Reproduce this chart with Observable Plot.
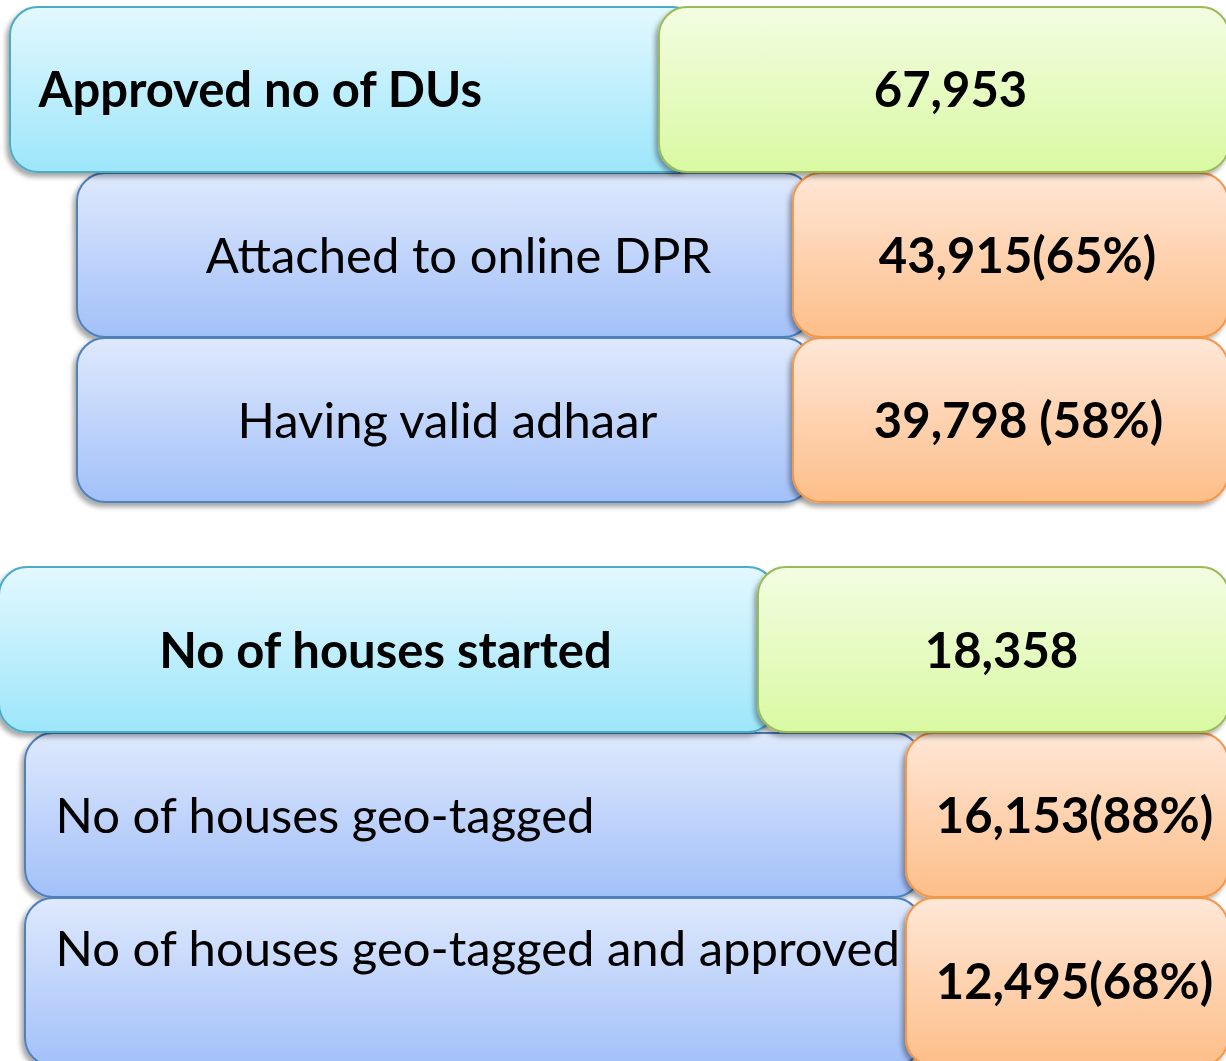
<!DOCTYPE html>
<html>
<head>
<meta charset="utf-8">
<script src="https://cdn.jsdelivr.net/npm/d3@7"></script>
<script src="https://cdn.jsdelivr.net/npm/@observablehq/plot@0.6"></script>
<style>
  html, body { margin: 0; padding: 0; background: #ffffff; overflow: hidden; }
  #chart svg { display: block; }
</style>
</head>
<body>
<div id="chart"></div>
<script>
// ---- data ----
const labels = [
  "Approved no of DUs",
  "Attached to online DPR",
  "Having valid adhaar",
  "No of houses started",
  "No of houses geo-tagged",
  "No of houses geo-tagged and approved"
];
const values = [
  "67,953",
  "43,915(65%)",
  "39,798 (58%)",
  "18,358",
  "16,153(88%)",
  "12,495(68%)"
];
const levels = ["head", "sub", "sub", "head", "sub", "sub"];

// ---- layout (pixel units of the canvas) ----
const W = 1226, H = 1061;
const rowTop    = [7, 173, 338, 567, 733, 898];
const rowBottom = [172, 337, 502, 732, 897, 1066];
const labelBoxX = [[10, 700], [77, 812], [77, 812], [-1, 776], [25, 922], [25, 922]];
const valueBoxX = [[659, 1229], [793, 1228], [793, 1228], [758, 1229], [906, 1228], [906, 1228]];
const labelTextX = [38, 458, 447, 385, 55, 55];
const labelAnchor = ["start", "middle", "middle", "middle", "start", "start"];
const labelTextY = [91, 257, 422, 652, 817, 950];
const valueTextX = [950, 1017, 1018, 1001, 1074, 1074];
const valueTextY = [91, 257, 422, 652, 817, 983];

const rows = labels.map((label, i) => ({
  label, value: values[i], level: levels[i],
  y1: rowTop[i], y2: rowBottom[i],
  lx1: labelBoxX[i][0], lx2: labelBoxX[i][1],
  vx1: valueBoxX[i][0], vx2: valueBoxX[i][1],
  ltx: labelTextX[i], lanchor: labelAnchor[i], lty: labelTextY[i],
  vtx: valueTextX[i], vty: valueTextY[i]
}));
const heads = rows.filter(d => d.level === "head");
const subs = rows.filter(d => d.level === "sub");

const FONT = "Lato, 'Open Sans', sans-serif";
const FS = 49;

const defs = () => {
  const ns = "http://www.w3.org/2000/svg";
  const g = document.createElementNS(ns, "defs");
  g.innerHTML = `
    <linearGradient id="g-cyan" x1="0" y1="0" x2="0" y2="1">
      <stop offset="0" stop-color="#E3F8FE"/><stop offset="1" stop-color="#9DE6FB"/>
    </linearGradient>
    <linearGradient id="g-green" x1="0" y1="0" x2="0" y2="1">
      <stop offset="0" stop-color="#F3FDE2"/><stop offset="1" stop-color="#D9F9A2"/>
    </linearGradient>
    <linearGradient id="g-blue" x1="0" y1="0" x2="0" y2="1">
      <stop offset="0" stop-color="#DFE9FD"/><stop offset="1" stop-color="#A2C0F9"/>
    </linearGradient>
    <linearGradient id="g-orange" x1="0" y1="0" x2="0" y2="1">
      <stop offset="0" stop-color="#FFE7D7"/><stop offset="1" stop-color="#FDBE89"/>
    </linearGradient>
    <filter id="shadow" x="-10%" y="-10%" width="120%" height="130%">
      <feDropShadow dx="-3" dy="4" stdDeviation="2.5" flood-color="#000" flood-opacity="0.35"/>
    </filter>`;
  return g;
};

const boxOpts = {rx: 28, ry: 28, strokeWidth: 2};

const chart = Plot.plot({
  width: W,
  height: H,
  margin: 0,
  x: {domain: [0, W], range: [0, W], axis: null},
  y: {domain: [0, H], range: [0, H], axis: null},
  marks: [
    defs,
    Plot.rect(subs, {x1: "lx1", x2: "lx2", y1: "y1", y2: "y2", fill: "url(#g-blue)", stroke: "#4F81BD", ...boxOpts}),
    Plot.rect(subs, {x1: "vx1", x2: "vx2", y1: "y1", y2: "y2", fill: "url(#g-orange)", stroke: "#F79646", ...boxOpts}),
    Plot.rect(heads, {x1: "lx1", x2: "lx2", y1: "y1", y2: "y2", fill: "url(#g-cyan)", stroke: "#4BACC6", ...boxOpts}),
    Plot.rect(heads, {x1: "vx1", x2: "vx2", y1: "y1", y2: "y2", fill: "url(#g-green)", stroke: "#9BBB59", ...boxOpts}),
    Plot.text(rows, {
      x: "ltx", y: "lty", text: "label",
      textAnchor: d => d.lanchor,
      fontWeight: d => d.level === "head" ? "bold" : "normal",
      fontSize: FS, fontFamily: FONT, fill: "#000"
    }),
    Plot.text(rows, {
      x: "vtx", y: "vty", text: "value",
      fontWeight: "bold", fontSize: FS, fontFamily: FONT, fill: "#000"
    })
  ]
});

d3.select(chart).selectAll("g[aria-label=rect] rect").attr("filter", "url(#shadow)");
d3.select(chart).selectAll("g[aria-label=text]").each(function(_, gi) {
  if (gi === 0) {
    d3.select(this).selectAll("text").each(function(_, i) {
      d3.select(this).attr("text-anchor", labelAnchor[i]).attr("font-weight", levels[i] === "head" ? "bold" : "normal");
    });
  }
});
document.getElementById("chart").appendChild(chart);
</script>
</body>
</html>
